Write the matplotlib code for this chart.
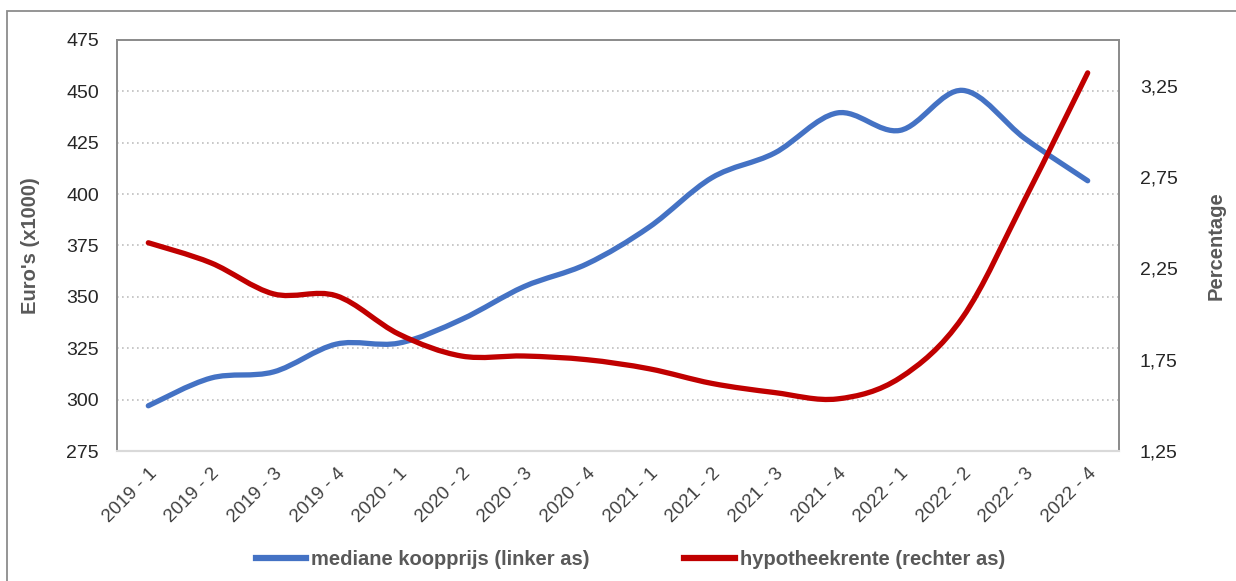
import matplotlib.pyplot as plt
import numpy as np
from matplotlib.lines import Line2D
from matplotlib.path import Path
from matplotlib.patches import PathPatch, Rectangle

plt.rcParams['font.family'] = ['Liberation Sans', 'DejaVu Sans']

quarters = ["2019 - 1", "2019 - 2", "2019 - 3", "2019 - 4",
            "2020 - 1", "2020 - 2", "2020 - 3", "2020 - 4",
            "2021 - 1", "2021 - 2", "2021 - 3", "2021 - 4",
            "2022 - 1", "2022 - 2", "2022 - 3", "2022 - 4"]
koopprijs = [297, 310.5, 313.5, 327, 327.5, 339, 355, 366,
             384, 408, 420, 439.5, 431, 450.5, 427, 406.5]
hypotheekrente = [2.39, 2.28, 2.11, 2.10, 1.89, 1.77, 1.77, 1.75,
                  1.70, 1.62, 1.57, 1.535, 1.65, 1.98, 2.63, 3.32]

BLUE = "#4472C4"
RED = "#C00000"
GREY = "#595959"


def smooth_path(xs, ys):
    # Excel-achtige gladde lijn: Bezier-segmenten door de datapunten
    pts = np.column_stack([xs, ys]).astype(float)
    ext = np.vstack([pts[0], pts, pts[-1]])
    verts = [pts[0]]
    codes = [Path.MOVETO]
    for i in range(len(pts) - 1):
        p0, p1, p2, p3 = ext[i], ext[i + 1], ext[i + 2], ext[i + 3]
        verts += [p1 + (p2 - p0) / 6, p2 - (p3 - p1) / 6, p2]
        codes += [Path.CURVE4] * 3
    return Path(verts, codes)


fig = plt.figure(figsize=(12.36, 5.81), dpi=100)
fig.patches.append(Rectangle((7 / 1236, -0.05), 1.2, 1 - 11 / 581 + 0.05, transform=fig.transFigure,
                             fill=False, edgecolor="#8c8c8c", linewidth=1.3))
ax = fig.add_axes([117 / 1236, 1 - 451 / 581, 1002 / 1236, 411 / 581])
ax2 = ax.twinx()

x = np.arange(len(quarters))
ax.add_patch(PathPatch(smooth_path(x, koopprijs), fill=False, edgecolor=BLUE, linewidth=3.8,
                       capstyle="round", joinstyle="round", zorder=3))
ax2.add_patch(PathPatch(smooth_path(x, hypotheekrente), fill=False, edgecolor=RED, linewidth=3.8,
                        capstyle="round", joinstyle="round", zorder=3))

ax.set_xlim(-0.5, len(quarters) - 0.5)
ax.set_ylim(275, 475)
ax.set_yticks(range(275, 476, 25))
ax2.set_ylim(1.25, 3.5)
ax2.set_yticks([1.25, 1.75, 2.25, 2.75, 3.25])
ax2.set_yticklabels(["1,25", "1,75", "2,25", "2,75", "3,25"])

for y in range(300, 451, 25):
    ax.axhline(y, color="#bfbfbf", linestyle=(0, (1, 2)), linewidth=1.2, zorder=1)

ax.set_xticks(x)
ax.set_xticklabels(quarters, rotation=45, ha="right", rotation_mode="anchor")
ax.tick_params(axis="x", length=0, pad=10, labelsize=13.5, labelcolor="#404040")
ax.tick_params(axis="y", length=0, pad=13, labelsize=14, labelcolor="#262626")
ax2.tick_params(axis="y", length=0, pad=15, labelsize=14, labelcolor="#262626")

for a in (ax, ax2):
    for side in ("left", "right", "top"):
        a.spines[side].set_color("#8c8c8c")
        a.spines[side].set_linewidth(1.3)
    a.spines["bottom"].set_color("#d9d9d9")
    a.spines["bottom"].set_linewidth(1.5)

ax.set_ylabel("Euro's (x1000)", fontsize=14.5, fontweight="bold", color=GREY, labelpad=19)
ax2.set_ylabel("Percentage", fontsize=14.5, fontweight="bold", color=GREY, labelpad=21)

handles = [
    Line2D([0], [0], color=BLUE, linewidth=4.5, label="mediane koopprijs (linker as)"),
    Line2D([0], [0], color=RED, linewidth=4.5, label="hypotheekrente (rechter as)"),
]
fig.legend(handles=handles, loc="center", bbox_to_anchor=(0.51, 0.037), ncol=2, frameon=False,
           handlelength=2.5, handletextpad=0.25, columnspacing=4.7,
           prop={"size": 14.5, "weight": "bold"}, labelcolor=GREY)

fig.savefig("out.png", dpi=100)
